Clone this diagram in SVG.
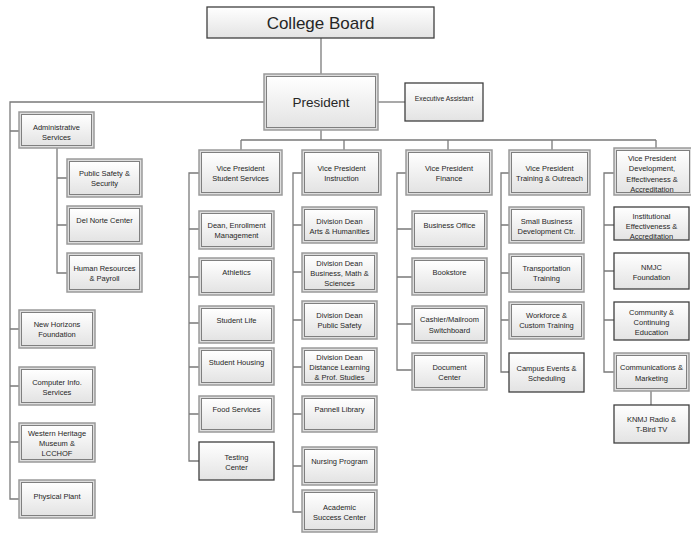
<svg xmlns="http://www.w3.org/2000/svg" width="691" height="535" viewBox="0 0 691 535">
<defs>
<linearGradient id="g" x1="0" y1="0" x2="0" y2="1">
<stop offset="0" stop-color="#ffffff"/>
<stop offset="1" stop-color="#e3e3e3"/>
</linearGradient>
<style>
.o{fill:#dedede;stroke:#9a9a9a;stroke-width:1.5}
.i{fill:url(#g);stroke:#7f7f7f;stroke-width:1}
.s{fill:url(#g);stroke:#3f3f3f;stroke-width:1.3}
.t{font-family:"Liberation Sans",Arial,sans-serif;font-size:7.5px;fill:#262626;text-anchor:middle;dominant-baseline:central}
.c{fill:none;stroke:#7a7a7a;stroke-width:1.3}
</style>
</defs>
<rect width="691" height="535" fill="#fff"/>
<g id="connectors" class="c">
<path d="M321,38V74"/>
<path d="M378,102H405"/>
<path d="M264,102H10V499H19"/>
<path d="M10,131H19M10,329H19M10,386H19M10,442H19"/>
<path d="M57,148V273H67M57,178H67M57,225H67"/>
<path d="M321,130V140M241,140H656M241,140V150M344,140V150M448,140V150M552,140V150M656,140V148"/>
<path d="M199,173H189V461H199M189,229H199M189,277H199M189,323H199M189,367H199M189,414H199"/>
<path d="M302,173H293V512H302M293,225H302M293,272H302M293,320H302M293,367H302M293,414H302M293,466H302"/>
<path d="M406,173H397V370H412M397,229H412M397,277H412M397,324H412"/>
<path d="M509,173H501V372H509M501,225H509M501,273H509M501,320H509"/>
<path d="M614,173H604V372H614M604,225H614M604,271H614M604,320H614"/>
<path d="M651,391V405"/>
</g>
<g id="college-board"><rect class="s" x="207" y="7" width="227" height="31"/><text class="t" x="320.5" y="23" style="font-size:17px">College Board</text></g>
<g id="president"><rect class="o" x="264" y="74" width="114" height="56"/><rect class="i" x="266.5" y="76.5" width="109" height="51"/><text class="t" x="321" y="102" style="font-size:13.5px">President</text></g>
<g id="executive-assistant"><rect class="s" x="405" y="83" width="78" height="38"/><text class="t" x="444" y="98" style="font-size:6.8px">Executive Assistant</text></g>

<g id="administrative-services"><rect class="o" x="19" y="112" width="75" height="36"/><rect class="i" x="21.5" y="114.5" width="70" height="31"/><text class="t" x="56.5" y="127">Administrative</text><text class="t" x="56.5" y="137">Services</text></g>
<g id="public-safety"><rect class="o" x="67" y="159" width="75" height="38"/><rect class="i" x="69.5" y="161.5" width="70" height="33"/><text class="t" x="104.5" y="173">Public Safety &amp;</text><text class="t" x="104.5" y="183">Security</text></g>
<g id="del-norte"><rect class="o" x="67" y="206" width="75" height="38"/><rect class="i" x="69.5" y="208.5" width="70" height="33"/><text class="t" x="104.5" y="220">Del Norte Center</text></g>
<g id="human-resources"><rect class="o" x="67" y="253" width="75" height="39"/><rect class="i" x="69.5" y="255.5" width="70" height="34"/><text class="t" x="104.5" y="268">Human Resources</text><text class="t" x="104.5" y="278">&amp; Payroll</text></g>
<g id="new-horizons"><rect class="o" x="19" y="310" width="76" height="38"/><rect class="i" x="21.5" y="312.5" width="71" height="33"/><text class="t" x="57" y="324">New Horizons</text><text class="t" x="57" y="334">Foundation</text></g>
<g id="computer-info"><rect class="o" x="19" y="367" width="76" height="38"/><rect class="i" x="21.5" y="369.5" width="71" height="33"/><text class="t" x="57" y="382">Computer Info.</text><text class="t" x="57" y="392">Services</text></g>
<g id="western-heritage"><rect class="o" x="19" y="423" width="76" height="39"/><rect class="i" x="21.5" y="425.5" width="71" height="34"/><text class="t" x="57" y="433">Western Heritage</text><text class="t" x="57" y="443">Museum &amp;</text><text class="t" x="57" y="453">LCCHOF</text></g>
<g id="physical-plant"><rect class="o" x="19" y="480" width="76" height="38"/><rect class="i" x="21.5" y="482.5" width="71" height="33"/><text class="t" x="57" y="496">Physical Plant</text></g>

<g id="vp-student-services"><rect class="o" x="199" y="150" width="83" height="45"/><rect class="i" x="201.5" y="152.5" width="78" height="40"/><text class="t" x="240.5" y="168">Vice President</text><text class="t" x="240.5" y="178">Student Services</text></g>
<g id="dean-enrollment"><rect class="o" x="199" y="211" width="75" height="38"/><rect class="i" x="201.5" y="213.5" width="70" height="33"/><text class="t" x="236.5" y="225">Dean, Enrollment</text><text class="t" x="236.5" y="235">Management</text></g>
<g id="athletics"><rect class="o" x="199" y="258" width="75" height="37"/><rect class="i" x="201.5" y="260.5" width="70" height="32"/><text class="t" x="236.5" y="272">Athletics</text></g>
<g id="student-life"><rect class="o" x="199" y="306" width="75" height="37"/><rect class="i" x="201.5" y="308.5" width="70" height="32"/><text class="t" x="236.5" y="320">Student Life</text></g>
<g id="student-housing"><rect class="o" x="199" y="348" width="75" height="37"/><rect class="i" x="201.5" y="350.5" width="70" height="32"/><text class="t" x="236.5" y="362">Student Housing</text></g>
<g id="food-services"><rect class="o" x="199" y="396" width="75" height="36"/><rect class="i" x="201.5" y="398.5" width="70" height="31"/><text class="t" x="236.5" y="409">Food Services</text></g>
<g id="testing-center"><rect class="s" x="199" y="442" width="75" height="38"/><text class="t" x="236.5" y="457">Testing</text><text class="t" x="236.5" y="467">Center</text></g>

<g id="vp-instruction"><rect class="o" x="302" y="150" width="79" height="45"/><rect class="i" x="304.5" y="152.5" width="74" height="40"/><text class="t" x="341.5" y="168">Vice President</text><text class="t" x="341.5" y="178">Instruction</text></g>
<g id="dean-arts"><rect class="o" x="302" y="207" width="75" height="36"/><rect class="i" x="304.5" y="209.5" width="70" height="31"/><text class="t" x="339.5" y="221">Division Dean</text><text class="t" x="339.5" y="231">Arts &amp; Humanities</text></g>
<g id="dean-business"><rect class="o" x="302" y="253" width="75" height="39"/><rect class="i" x="304.5" y="255.5" width="70" height="34"/><text class="t" x="339.5" y="263">Division Dean</text><text class="t" x="339.5" y="273">Business, Math &amp;</text><text class="t" x="339.5" y="283">Sciences</text></g>
<g id="dean-public-safety"><rect class="o" x="302" y="301" width="75" height="38"/><rect class="i" x="304.5" y="303.5" width="70" height="33"/><text class="t" x="339.5" y="315">Division Dean</text><text class="t" x="339.5" y="325">Public Safety</text></g>
<g id="dean-distance"><rect class="o" x="302" y="348" width="75" height="37"/><rect class="i" x="304.5" y="350.5" width="70" height="32"/><text class="t" x="339.5" y="357">Division Dean</text><text class="t" x="339.5" y="367">Distance Learning</text><text class="t" x="339.5" y="377">&amp; Prof. Studies</text></g>
<g id="pannell-library"><rect class="o" x="302" y="396" width="75" height="36"/><rect class="i" x="304.5" y="398.5" width="70" height="31"/><text class="t" x="339.5" y="409">Pannell Library</text></g>
<g id="nursing-program"><rect class="o" x="302" y="447" width="75" height="38"/><rect class="i" x="304.5" y="449.5" width="70" height="33"/><text class="t" x="339.5" y="461">Nursing Program</text></g>
<g id="academic-success"><rect class="o" x="302" y="490" width="75" height="42"/><rect class="i" x="304.5" y="492.5" width="70" height="37"/><text class="t" x="339.5" y="507">Academic</text><text class="t" x="339.5" y="517">Success Center</text></g>

<g id="vp-finance"><rect class="o" x="406" y="150" width="86" height="45"/><rect class="i" x="408.5" y="152.5" width="81" height="40"/><text class="t" x="449" y="168">Vice President</text><text class="t" x="449" y="178">Finance</text></g>
<g id="business-office"><rect class="o" x="412" y="211" width="75" height="38"/><rect class="i" x="414.5" y="213.5" width="70" height="33"/><text class="t" x="449.5" y="225">Business Office</text></g>
<g id="bookstore"><rect class="o" x="412" y="258" width="75" height="37"/><rect class="i" x="414.5" y="260.5" width="70" height="32"/><text class="t" x="449.5" y="272">Bookstore</text></g>
<g id="cashier"><rect class="o" x="412" y="306" width="75" height="37"/><rect class="i" x="414.5" y="308.5" width="70" height="32"/><text class="t" x="449.5" y="319">Cashier/Mailroom</text><text class="t" x="449.5" y="330">Switchboard</text></g>
<g id="document-center"><rect class="o" x="412" y="353" width="75" height="37"/><rect class="i" x="414.5" y="355.5" width="70" height="32"/><text class="t" x="449.5" y="367">Document</text><text class="t" x="449.5" y="377">Center</text></g>

<g id="vp-training"><rect class="o" x="509" y="150" width="81" height="45"/><rect class="i" x="511.5" y="152.5" width="76" height="40"/><text class="t" x="549.5" y="168">Vice President</text><text class="t" x="549.5" y="178">Training &amp; Outreach</text></g>
<g id="small-business"><rect class="o" x="509" y="207" width="75" height="36"/><rect class="i" x="511.5" y="209.5" width="70" height="31"/><text class="t" x="546.5" y="221">Small Business</text><text class="t" x="546.5" y="231">Development Ctr.</text></g>
<g id="transportation"><rect class="o" x="509" y="254" width="75" height="38"/><rect class="i" x="511.5" y="256.5" width="70" height="33"/><text class="t" x="546.5" y="268">Transportation</text><text class="t" x="546.5" y="278">Training</text></g>
<g id="workforce"><rect class="o" x="509" y="302" width="75" height="37"/><rect class="i" x="511.5" y="304.5" width="70" height="32"/><text class="t" x="546.5" y="315">Workforce &amp;</text><text class="t" x="546.5" y="325">Custom Training</text></g>
<g id="campus-events"><rect class="s" x="509" y="353" width="75" height="39"/><text class="t" x="546.5" y="368">Campus Events &amp;</text><text class="t" x="546.5" y="378">Scheduling</text></g>

<g id="vp-development"><rect class="o" x="614" y="148" width="78" height="47"/><rect class="i" x="616.5" y="150.5" width="73" height="42"/><text class="t" x="652" y="158">Vice President</text><text class="t" x="652" y="168.5">Development,</text><text class="t" x="652" y="179">Effectiveness &amp;</text><text class="t" x="652" y="189.5">Accreditation</text></g>
<g id="institutional-effectiveness"><rect class="s" x="614" y="207" width="75" height="33"/><text class="t" x="651.5" y="216">Institutional</text><text class="t" x="651.5" y="226">Effectiveness &amp;</text><text class="t" x="651.5" y="236">Accreditation</text></g>
<g id="nmjc-foundation"><rect class="s" x="614" y="253" width="75" height="36"/><text class="t" x="651.5" y="267">NMJC</text><text class="t" x="651.5" y="277">Foundation</text></g>
<g id="community-education"><rect class="s" x="614" y="302" width="75" height="38"/><text class="t" x="651.5" y="312">Community &amp;</text><text class="t" x="651.5" y="322">Continuing</text><text class="t" x="651.5" y="332">Education</text></g>
<g id="communications"><rect class="o" x="614" y="353" width="75" height="38"/><rect class="i" x="616.5" y="355.5" width="70" height="33"/><text class="t" x="651.5" y="367">Communications &amp;</text><text class="t" x="651.5" y="378">Marketing</text></g>
<g id="knmj"><rect class="s" x="614" y="405" width="75" height="38"/><text class="t" x="651.5" y="419">KNMJ Radio &amp;</text><text class="t" x="651.5" y="429">T-Bird TV</text></g>
</svg>
